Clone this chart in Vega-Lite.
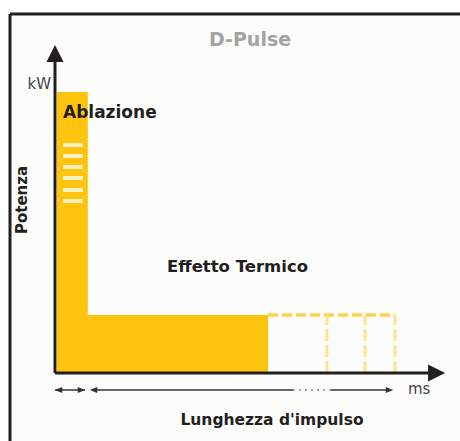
{
  "$schema": "https://vega.github.io/schema/vega-lite/v6.json",
  "width": 450,
  "height": 427,
  "padding": {"left": 10, "top": 14, "right": 0, "bottom": 0},
  "autosize": {"type": "none"},
  "background": "#ffffff",
  "config": {"view": {"fill": "#fcfcfa", "stroke": null}},
  "datasets": {
    "frame": [
      {"x": -1.125, "x2": 10.125, "y": 8.975, "y2": 8.975},
      {"x": -1.125, "x2": -1.125, "y": 8.975, "y2": -1.7}
    ],
    "bars": [
      {"name": "Ablazione", "x0": 0.05, "x1": 0.82, "y0": 0, "y1": 7.025},
      {"name": "Effetto Termico", "x0": 0.05, "x1": 5.325, "y0": 0, "y1": 1.45}
    ],
    "stripes": [
      {"x0": 0.2, "x1": 0.7, "y0": 5.65, "y1": 5.75},
      {"x0": 0.2, "x1": 0.7, "y0": 5.375, "y1": 5.475},
      {"x0": 0.2, "x1": 0.7, "y0": 5.1, "y1": 5.2},
      {"x0": 0.2, "x1": 0.7, "y0": 4.825, "y1": 4.925},
      {"x0": 0.2, "x1": 0.7, "y0": 4.525, "y1": 4.625},
      {"x0": 0.2, "x1": 0.7, "y0": 4.25, "y1": 4.35}
    ],
    "dashTop": [
      {"x": 5.325, "x2": 8.5, "y": 1.45, "y2": 1.45}
    ],
    "dashVert": [
      {"x": 6.8, "x2": 6.8, "y": 0, "y2": 1.45},
      {"x": 7.75, "x2": 7.75, "y": 0, "y2": 1.45},
      {"x": 8.5, "x2": 8.5, "y": 0, "y2": 1.45}
    ],
    "axes": [
      {"x": 0, "x2": 0, "y": 0, "y2": 7.8},
      {"x": 0, "x2": 9.4, "y": 0, "y2": 0}
    ],
    "arrowUp": [{"x": 0, "y": 7.99}],
    "arrowRight": [{"x": 9.54, "y": 0}],
    "spanSolid": [
      {"x": 0, "x2": 0.75, "y": -0.425, "y2": -0.425},
      {"x": 0.95, "x2": 5.95, "y": -0.425, "y2": -0.425},
      {"x": 6.9, "x2": 8.3, "y": -0.425, "y2": -0.425}
    ],
    "spanDotted": [
      {"x": 5.95, "x2": 6.9, "y": -0.425, "y2": -0.425}
    ],
    "smallLeft": [{"x": 0.0875, "y": -0.425}, {"x": 0.9625, "y": -0.425}],
    "smallRight": [{"x": 0.6625, "y": -0.425}, {"x": 8.3625, "y": -0.425}],
    "title": [{"label": "D-Pulse", "x": 4.875, "y": 8.325}],
    "units": [
      {"label": "kW", "x": -0.1, "y": 7.225}
    ],
    "unitsMs": [
      {"label": "ms", "x": 8.825, "y": -0.4}
    ],
    "inner": [
      {"label": "Ablazione", "x": 0.2, "y": 6.5, "size": 17},
      {"label": "Effetto Termico", "x": 2.8, "y": 2.65, "size": 16.5}
    ],
    "xTitle": [{"label": "Lunghezza d'impulso", "x": 5.425, "y": -1.175}],
    "yTitle": [{"label": "Potenza", "x": -0.825, "y": 4.325}]
  },
  "layer": [
    {
      "data": {"name": "frame"},
      "mark": {"type": "rule", "color": "#231f20", "strokeWidth": 3},
      "encoding": {
        "x": {"field": "x", "type": "quantitative", "scale": {"domain": [-1.125, 10.125], "nice": false, "zero": false}, "axis": null},
        "x2": {"field": "x2"},
        "y": {"field": "y", "type": "quantitative", "scale": {"domain": [-1.7, 8.975], "nice": false, "zero": false}, "axis": null},
        "y2": {"field": "y2"}
      }
    },
    {
      "data": {"name": "bars"},
      "mark": {"type": "rect", "color": "#fec30d"},
      "encoding": {
        "x": {"field": "x0", "type": "quantitative", "axis": null},
        "x2": {"field": "x1"},
        "y": {"field": "y0", "type": "quantitative", "axis": null},
        "y2": {"field": "y1"}
      }
    },
    {
      "data": {"name": "stripes"},
      "mark": {"type": "rect", "color": "#ffffff", "opacity": 0.75},
      "encoding": {
        "x": {"field": "x0", "type": "quantitative", "axis": null},
        "x2": {"field": "x1"},
        "y": {"field": "y0", "type": "quantitative", "axis": null},
        "y2": {"field": "y1"}
      }
    },
    {
      "data": {"name": "dashTop"},
      "mark": {"type": "rule", "color": "#fdd34a", "strokeWidth": 3.5, "strokeDash": [10, 4]},
      "encoding": {
        "x": {"field": "x", "type": "quantitative", "axis": null},
        "x2": {"field": "x2"},
        "y": {"field": "y", "type": "quantitative", "axis": null},
        "y2": {"field": "y2"}
      }
    },
    {
      "data": {"name": "dashVert"},
      "mark": {"type": "rule", "color": "#ffe38a", "strokeWidth": 3, "strokeDash": [12, 4]},
      "encoding": {
        "x": {"field": "x", "type": "quantitative", "axis": null},
        "x2": {"field": "x2"},
        "y": {"field": "y", "type": "quantitative", "axis": null},
        "y2": {"field": "y2"}
      }
    },
    {
      "data": {"name": "axes"},
      "mark": {"type": "rule", "color": "#231f20", "strokeWidth": 3},
      "encoding": {
        "x": {"field": "x", "type": "quantitative", "axis": null},
        "x2": {"field": "x2"},
        "y": {"field": "y", "type": "quantitative", "axis": null},
        "y2": {"field": "y2"}
      }
    },
    {
      "data": {"name": "arrowUp"},
      "mark": {"type": "point", "shape": "M0,-1L1,1L-1,1Z", "filled": true, "color": "#231f20", "opacity": 1, "size": 290, "strokeWidth": 0},
      "encoding": {
        "x": {"field": "x", "type": "quantitative", "axis": null},
        "y": {"field": "y", "type": "quantitative", "axis": null}
      }
    },
    {
      "data": {"name": "arrowRight"},
      "mark": {"type": "point", "shape": "M1,0L-1,-1L-1,1Z", "filled": true, "color": "#231f20", "opacity": 1, "size": 290, "strokeWidth": 0},
      "encoding": {
        "x": {"field": "x", "type": "quantitative", "axis": null},
        "y": {"field": "y", "type": "quantitative", "axis": null}
      }
    },
    {
      "data": {"name": "spanSolid"},
      "mark": {"type": "rule", "color": "#333333", "strokeWidth": 1.5},
      "encoding": {
        "x": {"field": "x", "type": "quantitative", "axis": null},
        "x2": {"field": "x2"},
        "y": {"field": "y", "type": "quantitative", "axis": null},
        "y2": {"field": "y2"}
      }
    },
    {
      "data": {"name": "spanDotted"},
      "mark": {"type": "rule", "color": "#8a8a8a", "strokeWidth": 1.5, "strokeDash": [2, 4]},
      "encoding": {
        "x": {"field": "x", "type": "quantitative", "axis": null},
        "x2": {"field": "x2"},
        "y": {"field": "y", "type": "quantitative", "axis": null},
        "y2": {"field": "y2"}
      }
    },
    {
      "data": {"name": "smallLeft"},
      "mark": {"type": "point", "shape": "M-1,0L1,-0.8L1,0.8Z", "filled": true, "color": "#333333", "opacity": 1, "size": 56, "strokeWidth": 0},
      "encoding": {
        "x": {"field": "x", "type": "quantitative", "axis": null},
        "y": {"field": "y", "type": "quantitative", "axis": null}
      }
    },
    {
      "data": {"name": "smallRight"},
      "mark": {"type": "point", "shape": "M1,0L-1,-0.8L-1,0.8Z", "filled": true, "color": "#333333", "opacity": 1, "size": 56, "strokeWidth": 0},
      "encoding": {
        "x": {"field": "x", "type": "quantitative", "axis": null},
        "y": {"field": "y", "type": "quantitative", "axis": null}
      }
    },
    {
      "data": {"name": "title"},
      "mark": {"type": "text", "font": "DejaVu Sans", "fontWeight": "bold", "fontSize": 19, "color": "#a3a3a3", "align": "center", "baseline": "middle"},
      "encoding": {
        "x": {"field": "x", "type": "quantitative", "axis": null},
        "y": {"field": "y", "type": "quantitative", "axis": null},
        "text": {"field": "label"}
      }
    },
    {
      "data": {"name": "units"},
      "mark": {"type": "text", "font": "DejaVu Sans", "fontSize": 15, "color": "#444444", "align": "right", "baseline": "middle"},
      "encoding": {
        "x": {"field": "x", "type": "quantitative", "axis": null},
        "y": {"field": "y", "type": "quantitative", "axis": null},
        "text": {"field": "label"}
      }
    },
    {
      "data": {"name": "unitsMs"},
      "mark": {"type": "text", "font": "DejaVu Sans", "fontSize": 15, "color": "#444444", "align": "left", "baseline": "middle"},
      "encoding": {
        "x": {"field": "x", "type": "quantitative", "axis": null},
        "y": {"field": "y", "type": "quantitative", "axis": null},
        "text": {"field": "label"}
      }
    },
    {
      "data": {"name": "inner"},
      "mark": {"type": "text", "font": "DejaVu Sans", "fontWeight": "bold", "color": "#231f20", "align": "left", "baseline": "middle"},
      "encoding": {
        "x": {"field": "x", "type": "quantitative", "axis": null},
        "y": {"field": "y", "type": "quantitative", "axis": null},
        "size": {"field": "size", "type": "quantitative", "scale": null, "legend": null},
        "text": {"field": "label"}
      }
    },
    {
      "data": {"name": "xTitle"},
      "mark": {"type": "text", "font": "DejaVu Sans", "fontWeight": "bold", "fontSize": 15.5, "color": "#231f20", "align": "center", "baseline": "middle"},
      "encoding": {
        "x": {"field": "x", "type": "quantitative", "axis": null},
        "y": {"field": "y", "type": "quantitative", "axis": null},
        "text": {"field": "label"}
      }
    },
    {
      "data": {"name": "yTitle"},
      "mark": {"type": "text", "font": "DejaVu Sans", "fontWeight": "bold", "fontSize": 15, "color": "#231f20", "align": "center", "baseline": "middle", "angle": 270},
      "encoding": {
        "x": {"field": "x", "type": "quantitative", "axis": null},
        "y": {"field": "y", "type": "quantitative", "axis": null},
        "text": {"field": "label"}
      }
    }
  ]
}
